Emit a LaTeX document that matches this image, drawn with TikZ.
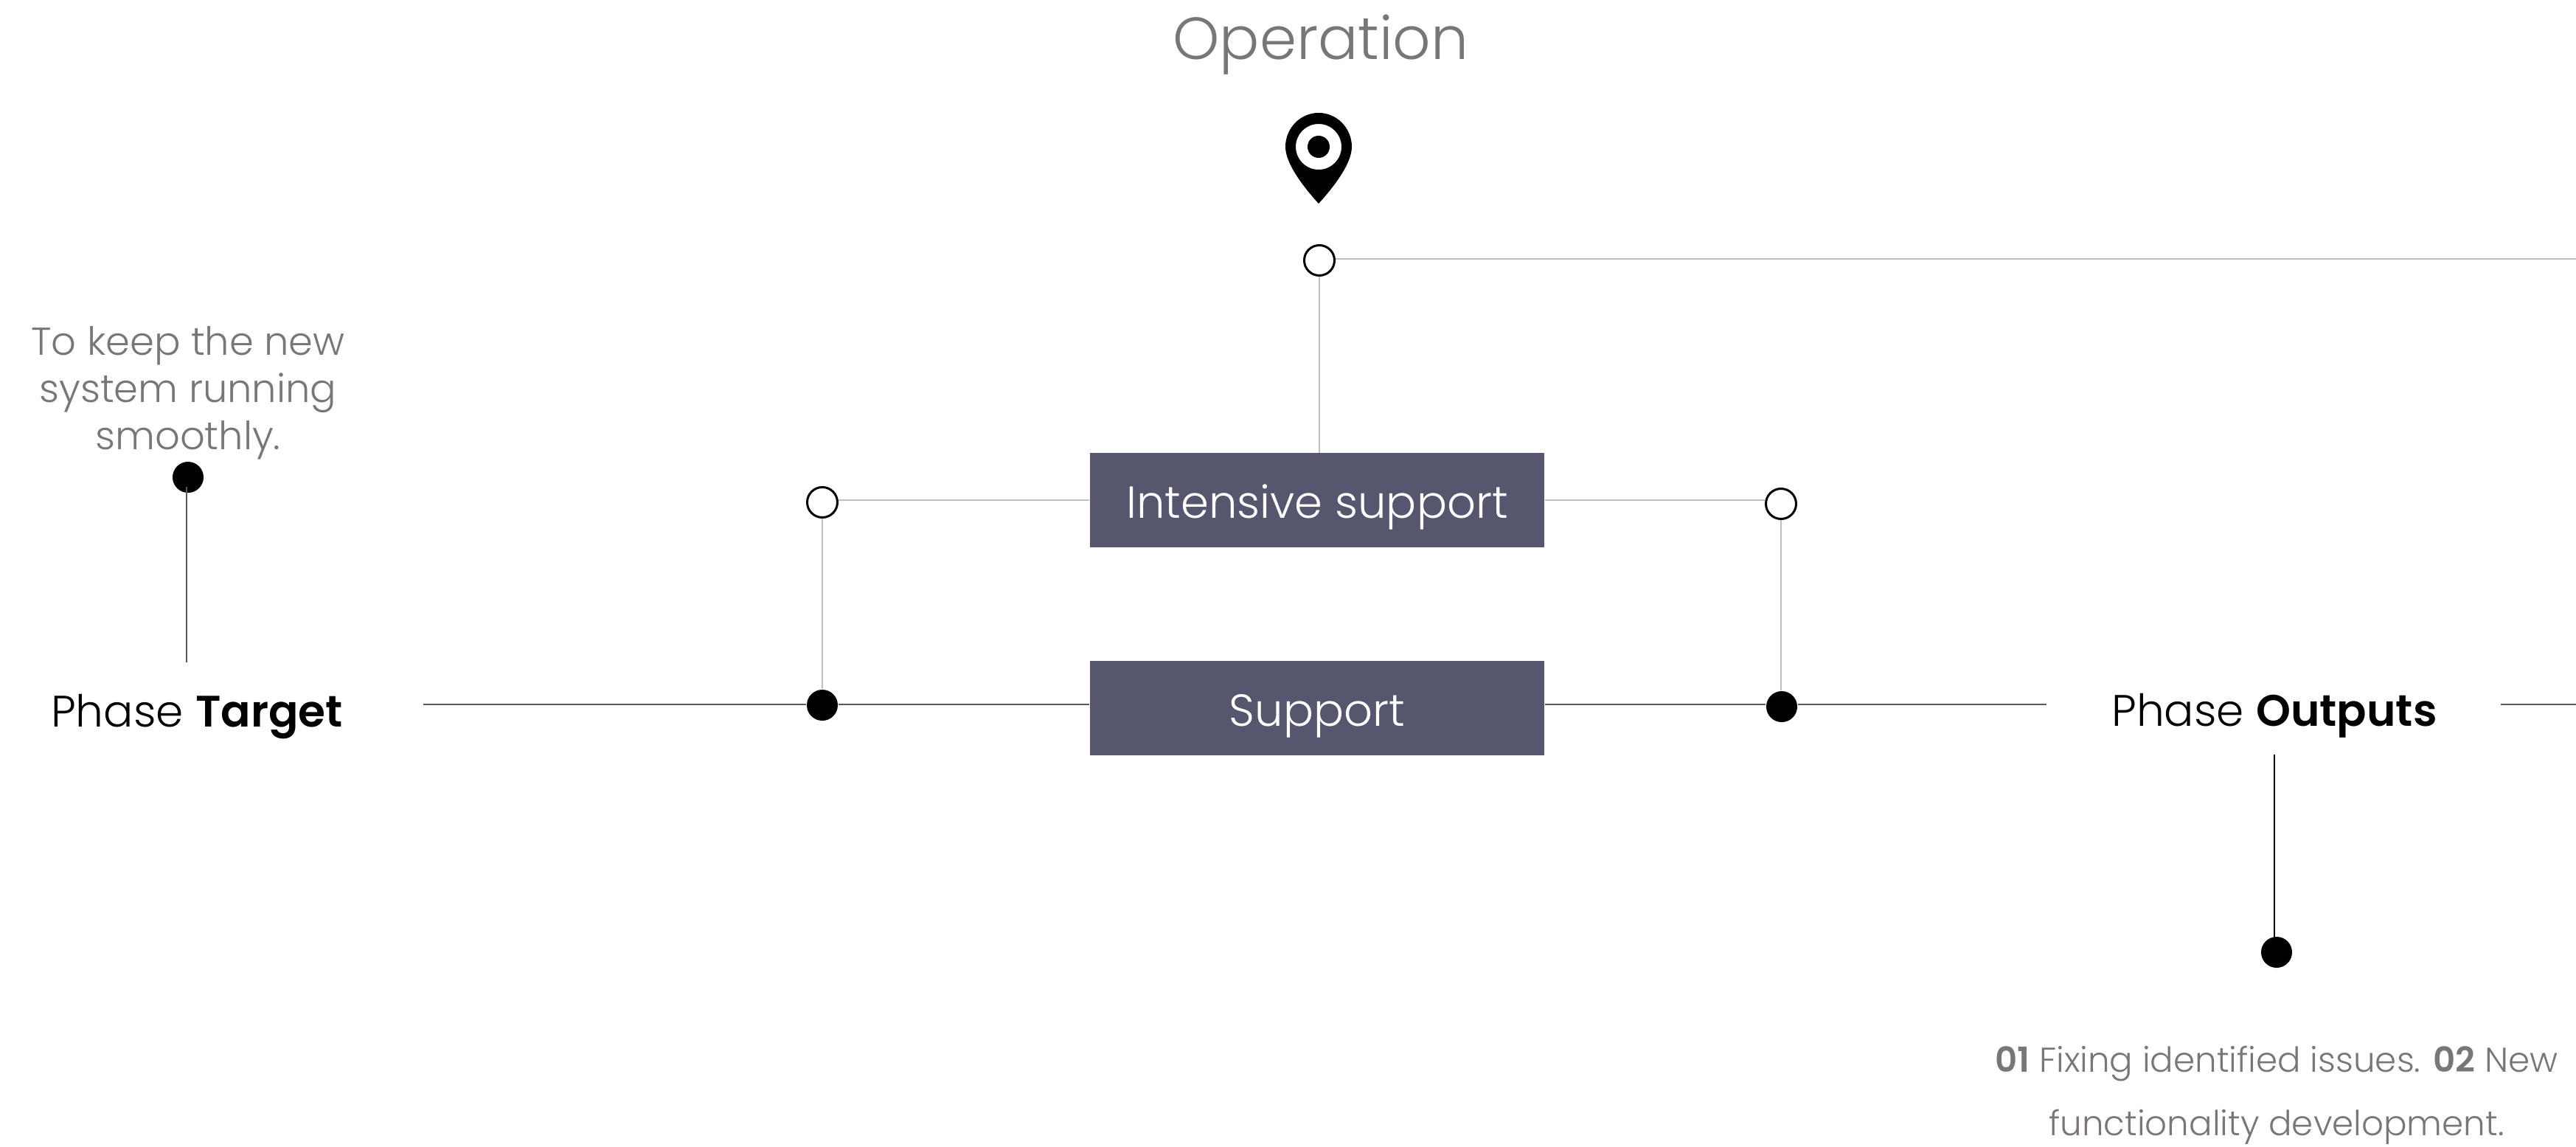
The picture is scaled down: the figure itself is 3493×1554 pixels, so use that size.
\documentclass[tikz,border=0pt]{standalone}
\usepackage{fontspec}
\setmainfont{Poppins}[UprightFont=* Light,BoldFont=* SemiBold]
\definecolor{boxslate}{HTML}{56566E}
\definecolor{textgrey}{HTML}{7A7676}
\definecolor{railgrey}{HTML}{595959}
\definecolor{linkgrey}{HTML}{BFBFBF}
\begin{document}
\begin{tikzpicture}[
       x=0.01cm,
       y=-0.01cm,
       dot/.style={
         circle,
         fill=black,
         inner sep=0pt,
         minimum size=0.42cm
       },
       ring/.style={
         circle,
         draw=black,
         line width=0.85pt,
         fill=white,
         inner sep=0pt,
         minimum size=0.41cm
       },
       phasebox/.style={
         fill=boxslate,
         inner sep=0pt,
         minimum width=6.16cm,
         minimum height=1.27cm
       },
       boxtext/.style={anchor=base,text=white,font=\fontsize{17.3}{21}\selectfont},
       phase/.style={anchor=base,font=\fontsize{17}{21}\selectfont},
       note/.style={anchor=base,text=textgrey,align=center},
       rail/.style={draw=railgrey,line width=0.7pt},
       link/.style={draw=linkgrey,line width=0.6pt}
     ]

       \useasboundingbox (0,0) rectangle (3493,1554);

       \node (title) at (1791,80) [note,font=\fontsize{22.9}{26}\selectfont]{Operation};
       \node (goal) at (255,609) [note,font=\fontsize{15}{18.2}\selectfont]{To keep the new\\system running\\smoothly.};
       \node (target) at (267,985) [phase]{Phase \textbf{Target}};
       \node (outputs) at (3084,984) [phase]{Phase \textbf{Outputs}};
       \node (work) at (3087,1539) [note,font=\fontsize{13.3}{24.2}\selectfont]{\textbf{01} Fixing identified issues. \textbf{02} New\\functionality development.};

       \node (intensive) at (1786,678) [phasebox]{};
       \node (support) at (1786,960) [phasebox]{};
       \node (intensivetext) at (1786,702) [boxtext]{Intensive support};
       \node (supporttext) at (1786,984) [boxtext]{Support};

       \node (op) at (1789,353) [ring]{};
       \node (il) at (1115,681) [ring]{};
       \node (ir) at (2415,683) [ring]{};
       \node (sl) at (1115,956) [dot]{};
       \node (sr) at (2416,958) [dot]{};
       \node (gd) at (255,647) [dot]{};
       \node (od) at (3087,1291) [dot]{};

       \coordinate (opend) at (3493,351);
       \coordinate (tend) at (574,955);
       \coordinate (oleft) at (2775,955);
       \coordinate (oright) at (3391,955);
       \coordinate (rend) at (3493,955);
       \coordinate (gfoot) at (253,898);
       \coordinate (gtop) at (253,660);
       \coordinate (otop) at (3084,1023);
       \coordinate (ofoot) at (3084,1275);

       % pin
       \fill[even odd rule] (1788,153) .. controls (1763,153) and (1743,174) .. (1743,199)
         .. controls (1743,222) and (1768,254) .. (1788,276)
         .. controls (1808,254) and (1833,222) .. (1833,199)
         .. controls (1833,174) and (1813,153) .. (1788,153) -- cycle
         (1788,199) circle[radius=31] (1788,199) circle[radius=15];

       \draw[link] (op.east |- opend) -- (opend);
       \draw[link] (op.south) -- (op.south |- intensive.north);
       \draw[link] (il.east |- intensive.west) -- (intensive.west);
       \draw[link] (ir.west |- intensive.east) -- (intensive.east);
       \draw[link] (il) -- (sl);
       \draw[link] (ir.south) -- (ir.south |- sr.north);

       \draw[rail] (tend) -- (sl.west |- tend);
       \draw[rail] (sl.east |- tend) -- (support.west |- tend);
       \draw[rail] (support.east |- tend) -- (sr.west |- tend);
       \draw[rail] (sr.east |- tend) -- (oleft);
       \draw[rail] (oright) -- (rend);
       \draw[rail,line width=0.4pt] (gtop) -- (gfoot);
       \draw[black,line width=0.4pt] (otop) -- (ofoot);

\end{tikzpicture}
\end{document}
